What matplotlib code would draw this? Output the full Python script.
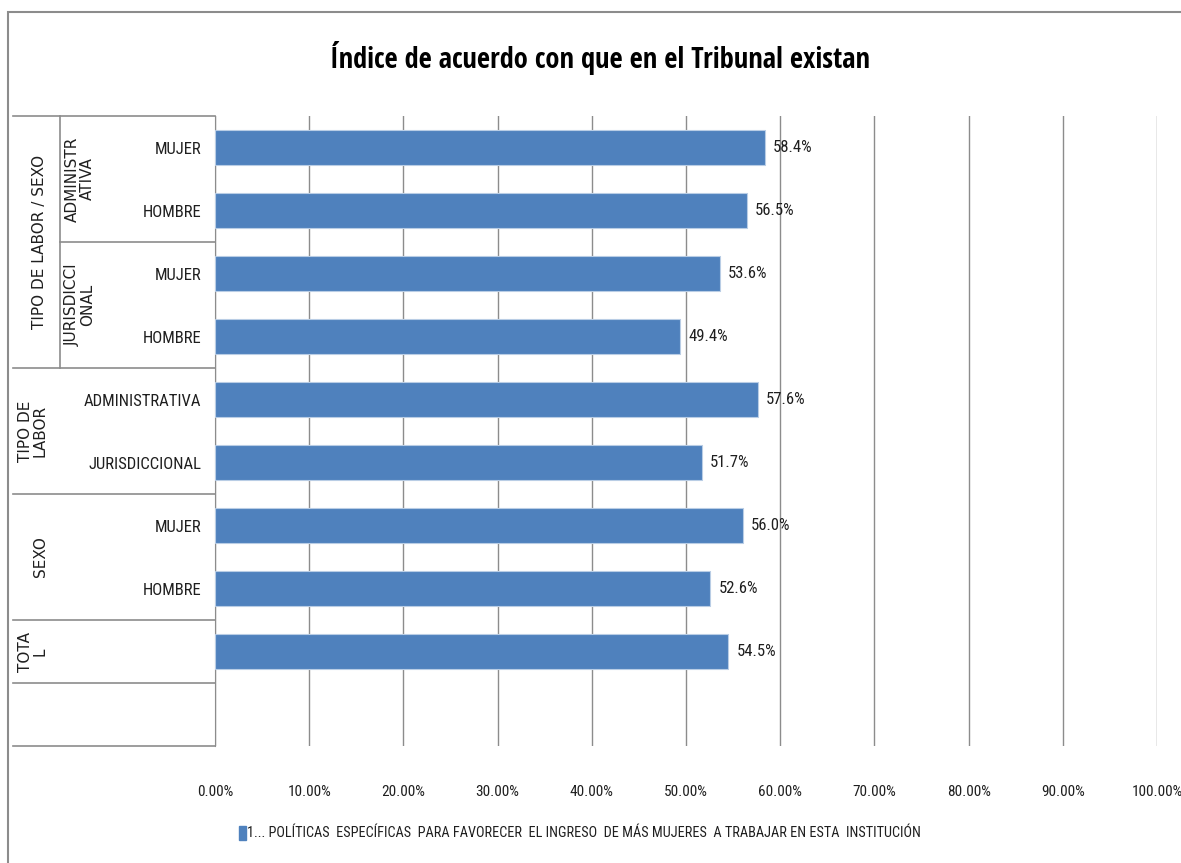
import matplotlib.pyplot as plt
from matplotlib.lines import Line2D
from matplotlib.patches import Rectangle

# categories from top to bottom (last slot is empty)
categorias = ['MUJER', 'HOMBRE', 'MUJER', 'HOMBRE', 'ADMINISTRATIVA',
              'JURISDICCIONAL', 'MUJER', 'HOMBRE', '', '']
valores = [58.4, 56.5, 53.6, 49.4, 57.6, 51.7, 56.0, 52.6, 54.5]
xticks = [0, 10, 20, 30, 40, 50, 60, 70, 80, 90, 100]
serie = '1... POLÍTICAS  ESPECÍFICAS  PARA FAVORECER  EL INGRESO  DE MÁS MUJERES  A TRABAJAR EN ESTA  INSTITUCIÓN'
titulo = 'Índice de acuerdo con que en el Tribunal existan'

narrow = ['Roboto Condensed', 'DejaVu Sans']
azul = '#4F81BD'
gris = '#8C8C8C'
tinta = '#1F1F1F'

fig = plt.figure(figsize=(11.81, 8.63), dpi=100)
W, H = 1181, 863
ax = fig.add_axes([215 / W, 1 - 746 / H, 942 / W, 630 / H])

y = list(range(len(valores)))
ax.barh(y, valores, height=0.56, color=azul, edgecolor='#B9CDE5', linewidth=0.8, zorder=3)
for yi, v in zip(y, valores):
    ax.text(v + 0.85, yi, f'{v:.1f}%', va='center', ha='left', fontsize=12,
            family=narrow, color=tinta, zorder=4)

ax.set_xlim(0, 100)
ax.set_ylim(len(categorias) - 0.5, -0.5)
ax.set_xticks(xticks)
ax.set_xticklabels([f'{t:.2f}%' for t in xticks], family=narrow, fontsize=11, color=tinta)
ax.set_yticks(range(len(categorias)))
ax.set_yticklabels(categorias, family=narrow, fontsize=12, color=tinta)
ax.tick_params(axis='x', length=0, pad=28)
ax.tick_params(axis='y', length=0, pad=10)
ax.grid(axis='x', color=gris, linewidth=1, zorder=0)
for s in ['top', 'right', 'bottom']:
    ax.spines[s].set_visible(False)
ax.spines['left'].set_color(gris)

# group lines of the category axis
def px(xp):
    return (xp - 215) / 942

for yb, x0 in [(-0.5, 13), (1.5, 60), (3.5, 13), (5.5, 13), (7.5, 13), (8.5, 13), (9.5, 13)]:
    ax.add_line(Line2D([px(x0), 0], [yb, yb], transform=ax.get_yaxis_transform(),
                       color=gris, linewidth=1.2, clip_on=False))
ax.add_line(Line2D([px(60), px(60)], [-0.5, 3.5], transform=ax.get_yaxis_transform(),
                   color=gris, linewidth=1.2, clip_on=False))

grupos = [('TIPO DE LABOR / SEXO', 40, 1.5), ('ADMINISTR\nATIVA', 80, 0.5),
          ('JURISDICCI\nONAL', 80, 2.5), ('TIPO DE\nLABOR', 33, 4.5),
          ('SEXO', 40, 6.5), ('TOTA\nL', 33, 8.0)]
for txt, xp, yc in grupos:
    ax.text(px(xp), yc, txt, transform=ax.get_yaxis_transform(), rotation=90,
            ha='center', va='center', fontsize=11, color=tinta,
            family='DejaVu Sans', linespacing=1.0, multialignment='center')

fig.text(600 / W, 1 - 58 / H, titulo, ha='center', va='center', fontsize=20.5,
         fontweight='bold', family=['Open Sans Condensed', 'DejaVu Sans'])

# legend
fig.patches.append(Rectangle((239 / W, 1 - 840 / H), 7 / W, 14 / H,
                             transform=fig.transFigure, color=azul))
fig.text(247 / W, 1 - 833 / H, serie, ha='left', va='center', fontsize=10.3,
         family=narrow, color=tinta)

# chart border
fig.patches.append(Rectangle((8 / W, -0.01), 1.2, 1 - 12 / H + 0.01, transform=fig.transFigure,
                             fill=False, edgecolor=gris, linewidth=1.5))

plt.savefig('out.png', dpi=100)
